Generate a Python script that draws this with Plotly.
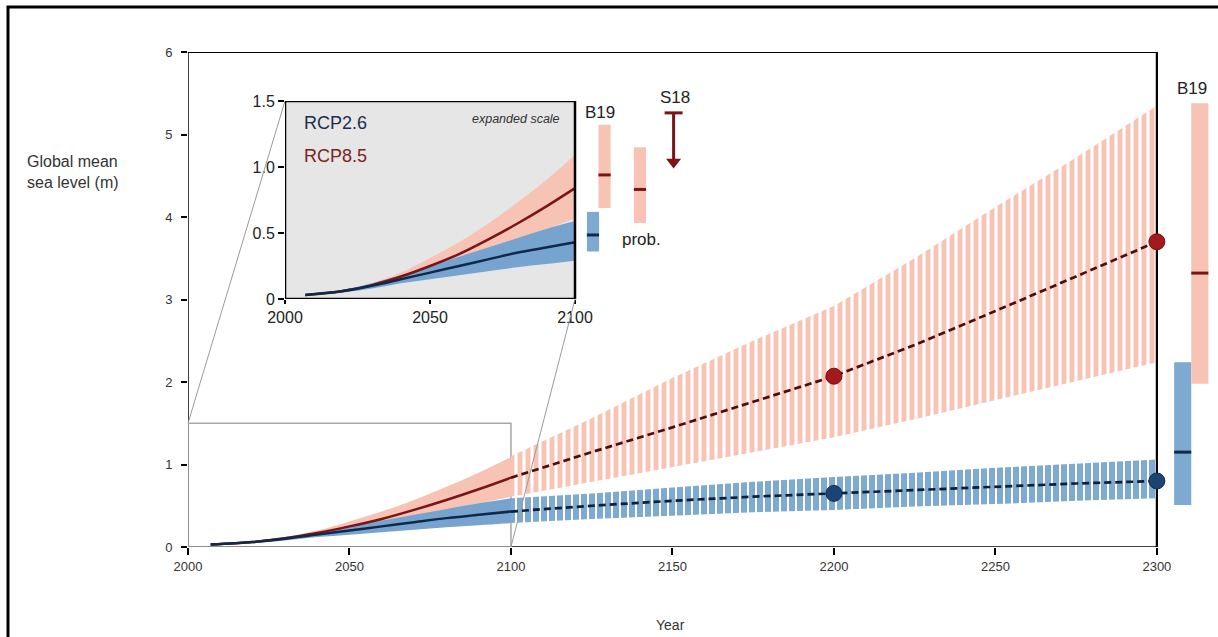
import plotly.graph_objects as go

# ---------------- data ----------------
# Projections 2007-2100 (likely range and median, metres)
years_hist = [2007, 2020, 2030, 2040, 2050, 2060, 2070, 2080, 2090, 2100]
rcp85_med = [0.03, 0.06, 0.105, 0.17, 0.25, 0.34, 0.45, 0.57, 0.70, 0.84]
rcp85_hi = [0.03, 0.07, 0.12, 0.20, 0.31, 0.43, 0.57, 0.73, 0.90, 1.09]
rcp85_lo = [0.03, 0.05, 0.09, 0.14, 0.20, 0.28, 0.36, 0.45, 0.53, 0.61]
rcp26_med = [0.03, 0.06, 0.10, 0.15, 0.20, 0.25, 0.30, 0.35, 0.39, 0.43]
rcp26_hi = [0.03, 0.07, 0.12, 0.18, 0.25, 0.32, 0.39, 0.46, 0.53, 0.59]
rcp26_lo = [0.03, 0.05, 0.08, 0.12, 0.15, 0.18, 0.21, 0.24, 0.265, 0.29]

# Extended projections 2100-2300 (low confidence)
years_ext = [2100, 2125, 2150, 2175, 2200, 2225, 2250, 2275, 2300]
rcp85_med_ext = [0.84, 1.15, 1.45, 1.76, 2.07, 2.45, 2.86, 3.28, 3.70]
rcp85_hi_ext = [1.10, 1.56, 2.05, 2.50, 2.92, 3.50, 4.12, 4.72, 5.35]
rcp85_lo_ext = [0.61, 0.79, 0.97, 1.15, 1.33, 1.55, 1.78, 2.01, 2.24]
rcp26_med_ext = [0.43, 0.50, 0.56, 0.61, 0.65, 0.69, 0.73, 0.77, 0.80]
rcp26_hi_ext = [0.59, 0.65, 0.72, 0.79, 0.85, 0.90, 0.96, 1.01, 1.06]
rcp26_lo_ext = [0.29, 0.34, 0.38, 0.42, 0.45, 0.49, 0.52, 0.56, 0.59]

marker_years = [2200, 2300]

# Expert-judgement ranges: (low, median, high)
b19_2300_rcp26 = (0.51, 1.15, 2.24)
b19_2300_rcp85 = (1.98, 3.32, 5.38)
b19_2100_rcp26 = (0.36, 0.485, 0.66)
b19_2100_rcp85 = (0.69, 0.94, 1.32)
prob_2100_rcp85 = (0.575, 0.83, 1.15)
s18_2100 = (1.41, 0.99)  # upper bound, arrow tip

# ---------------- styling ----------------
PINK = "#f7c3b4"
BLUE = "#76a4cf"
BLUE_BAR = "#7ea9d0"
RED_LINE = "#7b1416"
RED_DOT = "#a3191c"
RED_DASH = "#4a0e10"
NAVY_LINE = "#10284a"
NAVY_DOT = "#1b4473"
NAVY_DASH = "#0b1f3a"
FONT = "Liberation Sans, Arial, sans-serif"

W, H = 1218, 637
ML, MR, MT, MB = 188, 3, 52, 90
PW, PH = W - ML - MR, H - MT - MB

X_RANGE = [2000, 2318]
Y_RANGE = [0, 6]
X2_RANGE = [2000, 2140]
Y2_RANGE = [0, 1.5]
# inset placement in pixels
IN_L, IN_R, IN_T, IN_B = 285, 691, 101, 299

x2_dom = [(IN_L - ML) / PW, (IN_R - ML) / PW]
y2_dom = [(H - MB - IN_B) / PH, (H - MB - IN_T) / PH]


def main_to_paper(x, y):
    px = (x - X_RANGE[0]) / (X_RANGE[1] - X_RANGE[0])
    py = (y - Y_RANGE[0]) / (Y_RANGE[1] - Y_RANGE[0])
    return px, py


def inset_to_paper(x, y):
    fx = (x - X2_RANGE[0]) / (X2_RANGE[1] - X2_RANGE[0])
    fy = (y - Y2_RANGE[0]) / (Y2_RANGE[1] - Y2_RANGE[0])
    return (x2_dom[0] + fx * (x2_dom[1] - x2_dom[0]),
            y2_dom[0] + fy * (y2_dom[1] - y2_dom[0]))


fig = go.Figure()


def band(xs, hi, lo, color, xa="x", ya="y", pattern=None, shape="linear"):
    fig.add_trace(go.Scatter(x=xs, y=hi, mode="lines", line=dict(width=0, shape=shape),
                             xaxis=xa, yaxis=ya, hoverinfo="skip"))
    kw = dict(fill="tonexty")
    if pattern:
        kw["fillcolor"] = "rgba(0,0,0,0)"
        kw["fillpattern"] = dict(shape="|", fgcolor=color, fgopacity=1,
                                 bgcolor="rgba(0,0,0,0)",
                                 size=8, solidity=pattern, fillmode="replace")
    else:
        kw["fillcolor"] = color
    fig.add_trace(go.Scatter(x=xs, y=lo, mode="lines", line=dict(width=0, shape=shape),
                             xaxis=xa, yaxis=ya, hoverinfo="skip", **kw))


def line(xs, ys, color, width=2.5, dash=None, xa="x", ya="y", shape="linear"):
    fig.add_trace(go.Scatter(x=xs, y=ys, mode="lines",
                             line=dict(color=color, width=width, dash=dash, shape=shape),
                             xaxis=xa, yaxis=ya, hoverinfo="skip"))


def range_bar(center, width, rng, color, med_color, xa="x", ya="y"):
    lo, med, hi = rng
    fig.add_trace(go.Bar(x=[center], y=[hi - lo], base=[lo], width=[width],
                         marker=dict(color=color, line=dict(width=0)),
                         xaxis=xa, yaxis=ya, hoverinfo="skip"))
    line([center - width / 2, center + width / 2], [med, med], med_color,
         width=3, xa=xa, ya=ya)


# ---- main panel ----
band(years_hist, rcp85_hi, rcp85_lo, PINK, shape="spline")
band(years_ext, rcp85_hi_ext, rcp85_lo_ext, PINK, pattern=0.62)
band(years_hist, rcp26_hi, rcp26_lo, BLUE, shape="spline")
band(years_ext, rcp26_hi_ext, rcp26_lo_ext, BLUE_BAR, pattern=0.75)

line(years_hist, rcp85_med, RED_LINE, shape="spline")
line(years_ext, rcp85_med_ext, RED_DASH, width=2.7, dash="7px,4px")
line(years_hist, rcp26_med, NAVY_LINE, shape="spline")
line(years_ext, rcp26_med_ext, NAVY_DASH, width=2.7, dash="7px,4px")

ext_idx = [years_ext.index(y) for y in marker_years]
fig.add_trace(go.Scatter(x=marker_years, y=[rcp85_med_ext[i] for i in ext_idx],
                         mode="markers", cliponaxis=False,
                         marker=dict(size=16, color=RED_DOT, line=dict(color="#7a1010", width=1))))
fig.add_trace(go.Scatter(x=marker_years, y=[rcp26_med_ext[i] for i in ext_idx],
                         mode="markers", cliponaxis=False,
                         marker=dict(size=16, color=NAVY_DOT, line=dict(color="#122f52", width=1))))

range_bar(2308.0, 5.3, b19_2300_rcp26, BLUE_BAR, NAVY_LINE)
range_bar(2313.3, 5.3, b19_2300_rcp85, PINK, RED_LINE)

# ---- inset panel ----
band(years_hist, rcp85_hi, rcp85_lo, PINK, "x2", "y2", shape="spline")
band(years_hist, rcp26_hi, rcp26_lo, BLUE, "x2", "y2", shape="spline")
line(years_hist, rcp85_med, RED_LINE, xa="x2", ya="y2", shape="spline")
line(years_hist, rcp26_med, NAVY_LINE, xa="x2", ya="y2", shape="spline")

range_bar(2106.2, 4.2, b19_2100_rcp26, BLUE_BAR, NAVY_LINE, "x2", "y2")
range_bar(2110.2, 4.2, b19_2100_rcp85, PINK, RED_LINE, "x2", "y2")
range_bar(2122.4, 4.2, prob_2100_rcp85, PINK, RED_LINE, "x2", "y2")

s18_x = 2134.0
line([s18_x - 3.1, s18_x + 3.1, None, s18_x, s18_x],
     [s18_2100[0], s18_2100[0], None, s18_2100[0], s18_2100[1] + 0.06],
     RED_LINE, width=3, xa="x2", ya="y2")
fig.add_trace(go.Scatter(x=[s18_x], y=[s18_2100[1] + 0.048], mode="markers",
                         marker=dict(symbol="triangle-down", size=13, color=RED_LINE),
                         xaxis="x2", yaxis="y2", hoverinfo="skip"))

# ---------------- shapes ----------------
shapes = []
# outer frame
shapes.append(dict(type="rect", xref="paper", yref="paper",
                   x0=(8 - ML) / PW, x1=(W + 8 - ML) / PW,
                   y0=(H - MB - (H + 8)) / PH, y1=(H - MB - 7) / PH,
                   line=dict(color="black", width=3), fillcolor="rgba(0,0,0,0)"))
# main box (2000-2300)
for (x0, y0, x1, y1, w) in [(2000, 0, 2300, 0, 1.5), (2000, 0, 2000, 6, 1.5),
                            (2000, 6, 2300, 6, 2.2), (2300, 0, 2300, 6, 2.2)]:
    shapes.append(dict(type="line", xref="x", yref="y", x0=x0, y0=y0, x1=x1, y1=y1,
                       line=dict(color="black", width=w), layer="below"))
# zoom window in main panel
shapes.append(dict(type="rect", xref="x", yref="y", x0=2000, y0=0, x1=2100, y1=1.5,
                   line=dict(color="#a8a8a8", width=1.5), layer="below"))
# connectors from zoom window to the inset
for (mx, my), (ix, iy) in [((2000, 1.5), (2000, 1.5)), ((2100, 0), (2100, 0))]:
    a = main_to_paper(mx, my)
    b = inset_to_paper(ix, iy)
    shapes.append(dict(type="line", xref="paper", yref="paper",
                       x0=a[0], y0=a[1], x1=b[0], y1=b[1],
                       line=dict(color="#9a9a9a", width=1)))
# inset background and frame
shapes.append(dict(type="rect", xref="x2", yref="y2", x0=2000, y0=0, x1=2100, y1=1.5,
                   fillcolor="#e6e6e6", line=dict(width=0), layer="below"))
shapes.append(dict(type="rect", xref="x2", yref="y2", x0=2000, y0=0, x1=2100, y1=1.5,
                   line=dict(color="black", width=2.5), layer="above"))

# ---------------- annotations ----------------
ann = []


def text(t, x, y, size, color="#222", xanchor="center", italic=False, ref="paper"):
    ann.append(dict(text=f"<i>{t}</i>" if italic else t, x=x, y=y, xref=ref, yref=ref,
                    showarrow=False, xanchor=xanchor, yanchor="middle", align="left",
                    font=dict(family=FONT, size=size, color=color)))


def inset_text(t, x, y, size, **kw):
    px, py = inset_to_paper(x, y)
    text(t, px, py, size, **kw)


text("Global mean<br>sea level (m)", (25 - ML) / PW, (H - MB - 172) / PH,
     16, "#333", xanchor="left")
text("Year", (670 - ML) / PW, (H - MB - 625) / PH, 14, "#333")
inset_text("RCP2.6", 2006.0, 1.33, 18, color="#1b2e4f", xanchor="left")
inset_text("RCP8.5", 2006.0, 1.08, 18, color="#7a1f1f", xanchor="left")
inset_text("expanded scale", 2095.5, 1.36, 12.5, color="#333", xanchor="right", italic=True)
inset_text("B19", 2108.6, 1.41, 17)
inset_text("prob.", 2122.8, 0.45, 17)
inset_text("S18", 2134.5, 1.525, 17)
bx, by = main_to_paper(2310.8, 5.56)
text("B19", bx, by, 17)

fig.update_layout(
    width=W, height=H,
    margin=dict(l=ML, r=MR, t=MT, b=MB),
    paper_bgcolor="white", plot_bgcolor="rgba(0,0,0,0)",
    showlegend=False, barmode="overlay",
    font=dict(family=FONT, color="#222"),
    shapes=shapes, annotations=ann,
    xaxis=dict(domain=[0, 1], anchor="y", range=X_RANGE,
               tickvals=[2000, 2050, 2100, 2150, 2200, 2250, 2300],
               showline=False, showgrid=False, zeroline=False,
               ticks="outside", ticklen=7, tickwidth=1.5, tickcolor="black",
               tickfont=dict(size=13, color="#333")),
    yaxis=dict(domain=[0, 1], anchor="x", range=Y_RANGE,
               tickvals=[0, 1, 2, 3, 4, 5, 6],
               showline=False, showgrid=False, zeroline=False,
               ticks="outside", ticklen=6, tickwidth=1.5, tickcolor="black",
               ticklabelstandoff=6,
               tickfont=dict(size=13, color="#333")),
    xaxis2=dict(domain=x2_dom, anchor="y2", range=X2_RANGE,
                tickvals=[2000, 2050, 2100],
                showline=False, showgrid=False, zeroline=False,
                ticks="outside", ticklen=4, tickwidth=1.5, tickcolor="black",
                tickfont=dict(size=16, color="#222")),
    yaxis2=dict(domain=y2_dom, anchor="x2", range=Y2_RANGE,
                tickvals=[0, 0.5, 1.0, 1.5], ticktext=["0", "0.5", "1.0", "1.5"],
                showline=False, showgrid=False, zeroline=False,
                ticks="outside", ticklen=6, tickwidth=2, tickcolor="black",
                tickfont=dict(size=16, color="#222")),
)

fig.write_html("out.html")
